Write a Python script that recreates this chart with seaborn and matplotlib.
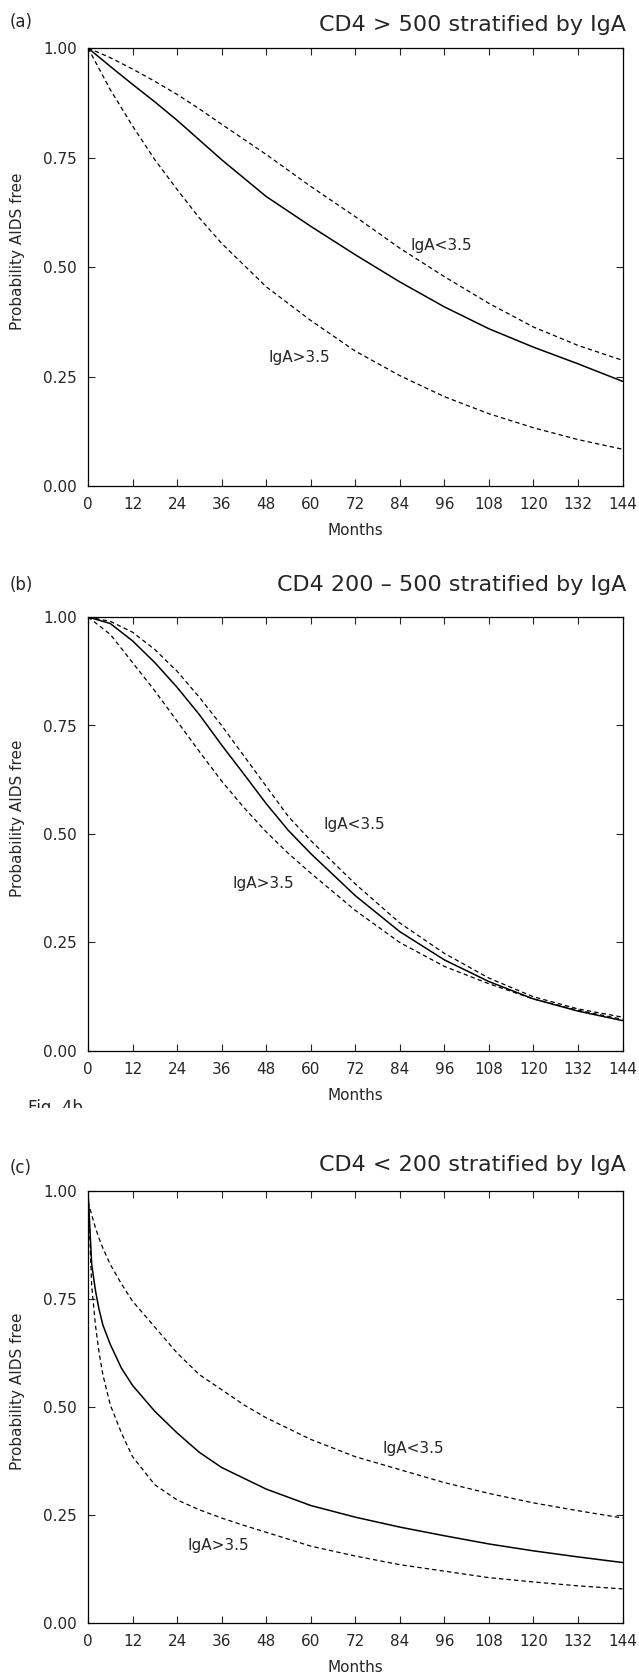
import matplotlib
matplotlib.use('Agg')
import matplotlib.pyplot as plt
import seaborn as sns
from matplotlib.patches import Rectangle

# ── Values ────────────────────────────────────────────────────
# (a) CD4 > 500
months_a = [0, 6, 12, 18, 24, 30, 36, 48, 60, 72, 84, 96, 108, 120, 132, 144]
a_all  = [1.0, 0.958, 0.917, 0.877, 0.835, 0.79, 0.745, 0.661, 0.593, 0.528,
          0.466, 0.409, 0.359, 0.317, 0.279, 0.239]
a_low  = [1.0, 0.978, 0.952, 0.924, 0.894, 0.861, 0.826, 0.757, 0.684, 0.615,
          0.543, 0.478, 0.417, 0.363, 0.321, 0.287]
a_high = [1.0, 0.905, 0.822, 0.745, 0.677, 0.612, 0.554, 0.455, 0.378, 0.308,
          0.252, 0.204, 0.165, 0.133, 0.106, 0.084]

# (b) CD4 200 - 500
months_b = [0, 6, 12, 18, 24, 30, 36, 42, 48, 54, 60, 72, 84, 96, 108, 120, 132, 144]
b_all  = [1.0, 0.985, 0.945, 0.895, 0.838, 0.775, 0.705, 0.638, 0.57, 0.508,
          0.455, 0.358, 0.275, 0.21, 0.16, 0.12, 0.092, 0.07]
b_low  = [1.0, 0.99, 0.965, 0.925, 0.875, 0.815, 0.75, 0.68, 0.61, 0.54,
          0.485, 0.385, 0.295, 0.225, 0.168, 0.125, 0.097, 0.078]
b_high = [1.0, 0.96, 0.895, 0.83, 0.76, 0.69, 0.622, 0.561, 0.505, 0.455,
          0.41, 0.324, 0.25, 0.195, 0.155, 0.12, 0.094, 0.073]

# (c) CD4 < 200
months_c = [0, 1, 2, 3, 4, 6, 9, 12, 18, 24, 30, 36, 42, 48, 60, 72, 84, 96,
            108, 120, 132, 144]
c_all  = [1.0, 0.83, 0.77, 0.725, 0.69, 0.645, 0.59, 0.55, 0.49, 0.44, 0.395,
          0.36, 0.335, 0.31, 0.272, 0.245, 0.222, 0.202, 0.183, 0.167, 0.153, 0.14]
c_low  = [0.975, 0.945, 0.915, 0.89, 0.868, 0.83, 0.785, 0.745, 0.685, 0.625,
          0.575, 0.54, 0.505, 0.475, 0.425, 0.385, 0.355, 0.325, 0.3, 0.278,
          0.26, 0.243]
c_high = [1.0, 0.78, 0.69, 0.625, 0.575, 0.505, 0.44, 0.385, 0.32, 0.285,
          0.262, 0.243, 0.226, 0.21, 0.178, 0.155, 0.135, 0.12, 0.105, 0.095,
          0.086, 0.079]

titles  = ['CD4 > 500 stratified by IgA',
           'CD4 200 \u2013 500 stratified by IgA',
           'CD4 < 200 stratified by IgA']
letters = ['(a)', '(b)', '(c)']
xticks  = list(range(0, 145, 12))
yticks  = [0.0, 0.25, 0.5, 0.75, 1.0]

# ── Style ─────────────────────────────────────────────────────
sns.set_style('ticks')
plt.rcParams['font.family'] = ['DejaVu Sans']

W, H = 639, 1676
fig = plt.figure(figsize=(W / 100, H / 100), dpi=100)

# axes boxes in pixels: (top, bottom)
boxes = [(48, 486), (617, 1051), (1191, 1623)]
ax_left, ax_right = 88, 622.5
title_y  = [25, 585, 1165]
letter_y = [22, 585, 1168]

panels = [
    (months_a, a_all, a_low, a_high, (86.9, 0.55), (48.5, 0.294)),
    (months_b, b_all, b_low, b_high, (63.5, 0.523), (38.9, 0.385)),
    (months_c, c_all, c_low, c_high, (79.4, 0.404), (26.8, 0.18)),
]

dash = (0, (3.5, 2.5))
for i, (m, s_all, s_low, s_high, lab_low, lab_high) in enumerate(panels):
    top, bot = boxes[i]
    ax = fig.add_axes([ax_left / W, 1 - bot / H,
                       (ax_right - ax_left) / W, (bot - top) / H])

    sns.lineplot(x=m, y=s_all,  ax=ax, color='black', lw=1.1)
    sns.lineplot(x=m, y=s_low,  ax=ax, color='black', lw=0.9, linestyle=dash)
    sns.lineplot(x=m, y=s_high, ax=ax, color='black', lw=0.9, linestyle=dash)

    ax.text(*lab_low,  'IgA<3.5', fontsize=11, va='center', ha='left')
    ax.text(*lab_high, 'IgA>3.5', fontsize=11, va='center', ha='left')

    ax.set_xlim(0, 144)
    ax.set_ylim(0, 1)
    ax.set_xticks(xticks)
    ax.set_yticks(yticks)
    ax.set_yticklabels([f'{v:.2f}' for v in yticks])
    ax.tick_params(direction='in', top=True, right=True, length=5, width=0.8,
                   labelsize=11, pad=8)
    for sp in ax.spines.values():
        sp.set_visible(True)
        sp.set_linewidth(0.9)
        sp.set_color('black')

    ax.set_xlabel('Months', fontsize=11)
    ax.xaxis.set_label_coords(0.5, -0.085)
    ax.set_ylabel('Probability AIDS free', fontsize=11)
    ax.yaxis.set_label_coords(-0.118, 0.537)

    fig.text(626 / W, 1 - title_y[i] / H, titles[i], fontsize=16,
             ha='right', va='center')
    fig.text(10 / W, 1 - letter_y[i] / H, letters[i], fontsize=12,
             ha='left', va='center')

# caption fragment clipped at the bottom in the scan
fig.text(28 / W, 1 - 1099 / H, 'Fig. 4b', fontsize=12, ha='left', va='top')
fig.patches.append(Rectangle((0.0, 1 - 1130 / H), 0.2, 22 / H,
                             transform=fig.transFigure, facecolor='white',
                             edgecolor='none', zorder=10))

fig.savefig('out.png', dpi=100)
plt.close(fig)
